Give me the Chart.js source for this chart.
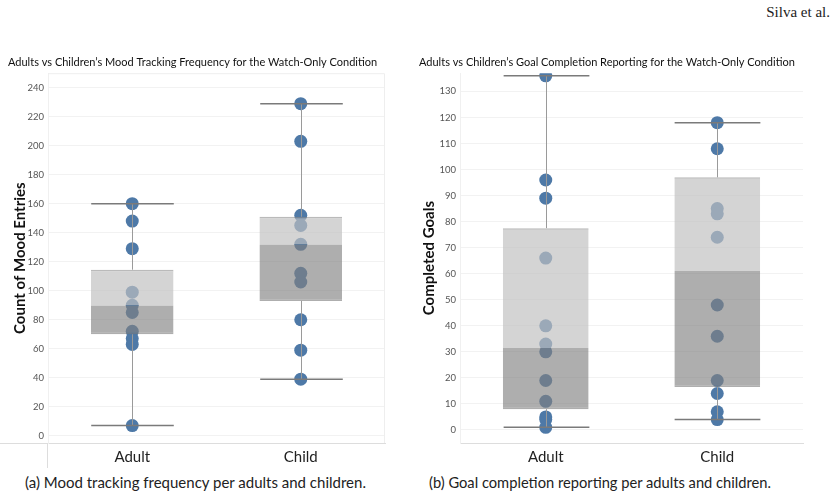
<!DOCTYPE html>
<html>
<head>
<meta charset="utf-8">
<script src="https://cdn.jsdelivr.net/npm/chart.js@4/dist/chart.umd.min.js"></script>
<style>
  body { margin: 0; background: #fff; width: 839px; height: 501px; position: relative; overflow: hidden; }
  .box { position: absolute; }
  .cap { position: absolute; top: 473px; font-family: Lato, sans-serif; font-size: 15px; color: #222; white-space: nowrap; }
  #hdr { position: absolute; top: 4px; right: 9px; font-family: "Liberation Serif", serif; font-size: 15px; color: #222; }
</style>
</head>
<body>
<div id="hdr">Silva et al.</div>
<div class="box" style="left:0;top:52px"><canvas id="mood" width="400" height="416"></canvas></div>
<div class="box" style="left:419px;top:52px"><canvas id="goal" width="400" height="416"></canvas></div>
<div class="cap" style="left:25px">(a) Mood tracking frequency per adults and children.</div>
<div class="cap" style="left:429px;font-size:14.7px">(b) Goal completion reporting per adults and children.</div>
<script>
var groups = ['Adult', 'Child'];

// mood entries, individual participants
var moodAdult = [160, 148, 129, 99, 90, 85, 72, 67, 63, 7];
var moodChild = [229, 203, 152, 145, 132, 112, 106, 80, 59, 39];
var moodMin = [7, 39];
var moodQ1 = [70, 93];
var moodMed = [90, 132];
var moodQ3 = [114.5, 151];
var moodMax = [160, 229];
var moodTicks = [0, 20, 40, 60, 80, 100, 120, 140, 160, 180, 200, 220, 240];

// completed goals
var goalAdult = [136, 96, 89, 66, 40, 33, 30, 19, 11, 5, 4, 1];
var goalChild = [118, 108, 85, 83, 74, 48, 36, 19, 14, 7, 4];
var goalMin = [1, 4];
var goalQ1 = [8, 16.5];
var goalMed = [31.5, 61];
var goalQ3 = [77.5, 97];
var goalMax = [136, 118];
var goalTicks = [0, 10, 20, 30, 40, 50, 60, 70, 80, 90, 100, 110, 120, 130];

var dotColor = '#4e79a7';
var tickFont = { family: 'Lato, sans-serif', size: 9.5 };

// whiskers + caps, drawn on top of the dots
var whiskerPlugin = {
	id: 'whiskers',
	afterDatasetsDraw: function(chart, args, opts) {
		var ctx = chart.ctx, x = chart.scales.x, y = chart.scales.y;
		var bars = chart.getDatasetMeta(0).data;
		ctx.save();
		for (var i = 0; i < opts.min.length; i++) {
			var cx = Math.round(x.getPixelForValue(i)) + 0.5;
			var hw = bars[i].width / 2;
			ctx.strokeStyle = '#9a9a9a';
			ctx.lineWidth = 1;
			ctx.beginPath();
			ctx.moveTo(cx, y.getPixelForValue(opts.min[i]));
			ctx.lineTo(cx, y.getPixelForValue(opts.q1[i]));
			ctx.moveTo(cx, y.getPixelForValue(opts.q3[i]));
			ctx.lineTo(cx, y.getPixelForValue(opts.max[i]));
			ctx.stroke();
			ctx.strokeStyle = '#7a7a7a';
			ctx.lineWidth = 1.5;
			ctx.beginPath();
			[opts.min[i], opts.max[i]].forEach(function(v) {
				var py = y.getPixelForValue(v);
				ctx.moveTo(cx - hw, py);
				ctx.lineTo(cx + hw, py);
			});
			ctx.stroke();
		}
		ctx.restore();
	}
};

var framePlugin = {
	id: 'frame',
	beforeDatasetsDraw: function(chart, args, opts) {
		if (!opts.show) return;
		var a = chart.chartArea, ctx = chart.ctx;
		ctx.save();
		ctx.strokeStyle = '#eeeeee';
		ctx.lineWidth = 1;
		ctx.beginPath();
		ctx.moveTo(a.left, a.top + 0.5);
		ctx.lineTo(a.right - 0.5, a.top + 0.5);
		ctx.lineTo(a.right - 0.5, a.bottom);
		ctx.stroke();
		ctx.strokeStyle = '#dddddd';
		ctx.beginPath();
		ctx.moveTo(0, a.bottom + 0.5);
		ctx.lineTo(a.left, a.bottom + 0.5);
		ctx.moveTo(a.left - 0.5, a.bottom);
		ctx.lineTo(a.left - 0.5, chart.height);
		ctx.stroke();
		ctx.restore();
	}
};

function boxChart(id, title, yTitle, adult, child, min, q1, med, q3, max, ticks, yMin, yMax, opt) {
	var pts = adult.map(function(v) { return { x: 'Adult', y: v }; })
		.concat(child.map(function(v) { return { x: 'Child', y: v }; }));
	return new Chart(document.getElementById(id), {
		type: 'bar',
		data: {
			labels: groups,
			datasets: [
				{
					data: q1.map(function(v, i) { return [v, med[i]]; }),
					backgroundColor: 'rgba(128,128,128,0.64)',
					borderColor: 'rgba(120,120,120,0.6)',
					borderWidth: { top: 0, bottom: 1.5, left: 0, right: 0 },
					borderSkipped: false,
					grouped: false,
					order: 0
				},
				{
					data: med.map(function(v, i) { return [v, q3[i]]; }),
					backgroundColor: 'rgba(192,192,192,0.68)',
					borderColor: 'rgba(140,140,140,0.6)',
					borderWidth: { top: 1.5, bottom: 0, left: 0, right: 0 },
					borderSkipped: false,
					grouped: false,
					order: 0
				},
				{
					type: 'line',
					data: pts,
					showLine: false,
					pointRadius: 6.5,
					pointBackgroundColor: dotColor,
					pointBorderWidth: 0,
					order: 1
				}
			]
		},
		options: {
			responsive: false,
			animation: false,
			categoryPercentage: 1,
			barPercentage: opt.barPct,
			layout: { padding: { left: opt.padLeft, right: opt.padRight, top: 0, bottom: 0 } },
			plugins: {
				legend: { display: false },
				tooltip: { enabled: false },
				title: {
					display: true,
					text: title,
					align: 'start',
					color: '#111',
					font: { family: 'Lato, sans-serif', size: 11, weight: 'normal' },
					padding: { top: 4, bottom: 4 }
				},
				whiskers: { min: min, q1: q1, q3: q3, max: max },
				frame: { show: opt.frame }
			},
			scales: {
				x: {
					grid: { display: false, drawTicks: false },
					border: { display: true, color: '#dddddd' },
					ticks: { color: '#222', font: { family: 'Lato, sans-serif', size: 15 }, padding: 5 },
					afterFit: function(s) { s.height = 25; }
				},
				y: {
					min: yMin,
					max: yMax,
					afterBuildTicks: function(s) { s.ticks = ticks.map(function(v) { return { value: v }; }); },
					grid: { color: '#f2f2f2', drawTicks: false },
					border: { display: true, color: '#f0f0f0' },
					ticks: { color: '#555', font: tickFont, padding: 4 },
					title: {
						display: true,
						text: yTitle,
						color: '#111',
						font: { family: 'Lato, sans-serif', size: 15, weight: 'bold' },
						padding: { top: opt.titlePad, bottom: 0 }
					},
					afterFit: function(s) { s.width = opt.yWidth; }
				}
			}
		},
		plugins: [whiskerPlugin, framePlugin]
	});
}

boxChart('mood', 'Adults vs Children\u2019s Mood Tracking Frequency for the Watch-Only Condition',
	'Count of Mood Entries', moodAdult, moodChild, moodMin, moodQ1, moodMed, moodQ3, moodMax,
	moodTicks, -5, 250, { barPct: 0.49, padLeft: 8, padRight: 15, yWidth: 40, titlePad: 3, frame: true });

boxChart('goal', 'Adults vs Children\u2019s Goal Completion Reporting for the Watch-Only Condition',
	'Completed Goals', goalAdult, goalChild, goalMin, goalQ1, goalMed, goalQ3, goalMax,
	goalTicks, -5, 137, { barPct: 0.5, padLeft: 0, padRight: 16, yWidth: 41, titlePad: 1, frame: false });
</script>
</body>
</html>
